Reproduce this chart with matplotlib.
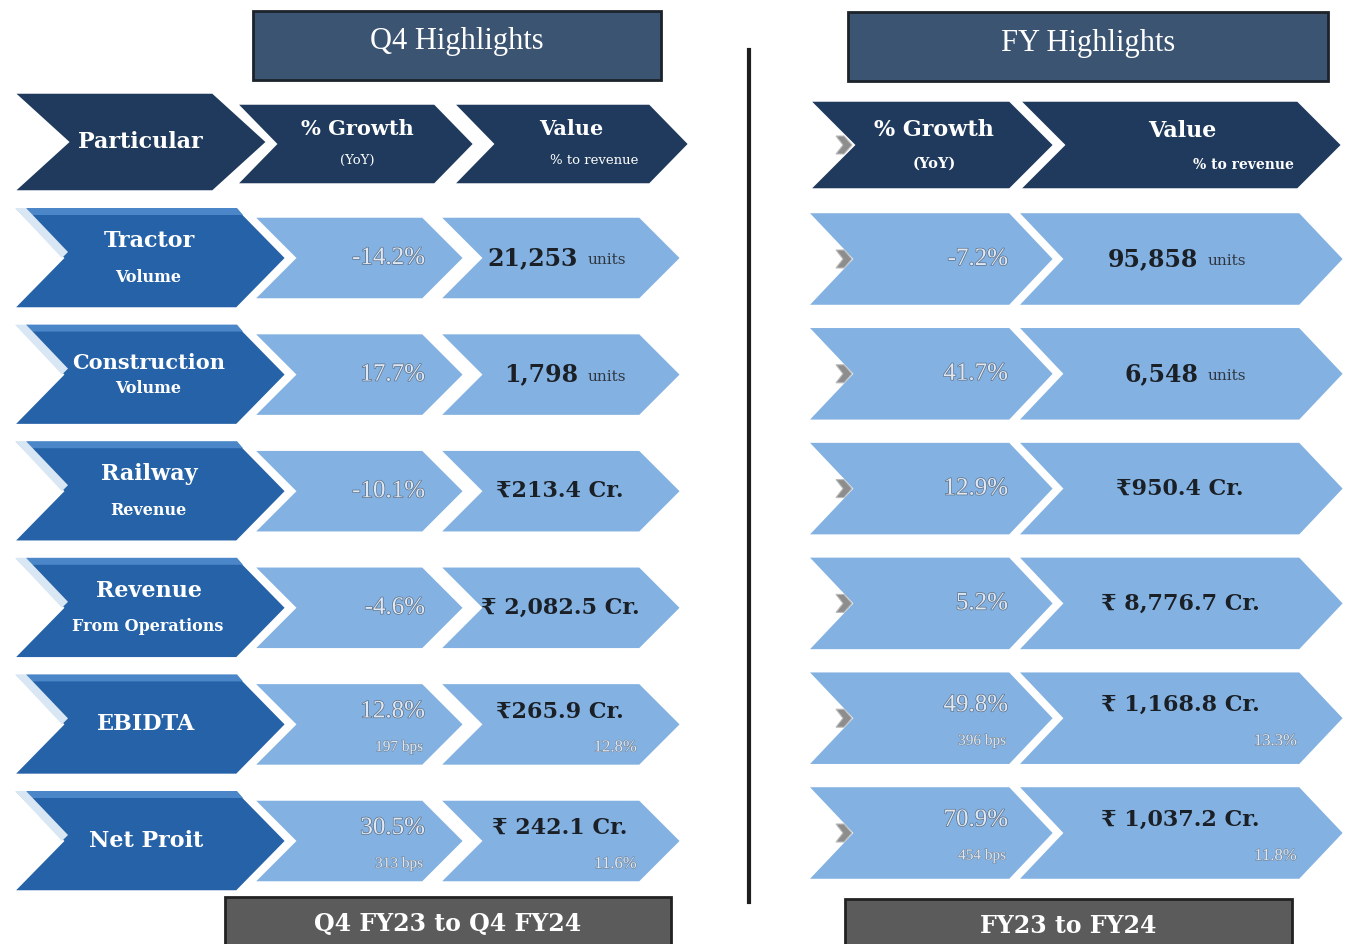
import matplotlib.pyplot as plt
from matplotlib.patches import Polygon, Rectangle
import matplotlib.patheffects as pe

# rows of the table
particulars = ['Tractor', 'Construction', 'Railway', 'Revenue', 'EBIDTA', 'Net Proit']
particular_sub = ['Volume', 'Volume', 'Revenue', 'From Operations', '', '']

q4_growth = ['-14.2%', '17.7%', '-10.1%', '-4.6%', '12.8%', '30.5%']
q4_growth_bps = ['', '', '', '', '197 bps', '313 bps']
q4_value = ['21,253', '1,798', '₹213.4 Cr.', '₹ 2,082.5 Cr.', '₹265.9 Cr.', '₹ 242.1 Cr.']
q4_value_unit = ['units', 'units', '', '', '', '']
q4_value_pct = ['', '', '', '', '12.8%', '11.6%']

fy_growth = ['-7.2%', '41.7%', '12.9%', '5.2%', '49.8%', '70.9%']
fy_growth_bps = ['', '', '', '', '396 bps', '454 bps']
fy_value = ['95,858', '6,548', '₹950.4 Cr.', '₹ 8,776.7 Cr.', '₹ 1,168.8 Cr.', '₹ 1,037.2 Cr.']
fy_value_unit = ['units', 'units', '', '', '', '']
fy_value_pct = ['', '', '', '', '13.3%', '11.8%']

NAVY = '#1f3a5c'
MID = '#2662a7'
LIGHT = '#83b2e2'
SERIF = ['DejaVu Serif', 'DejaVu Sans']

fig = plt.figure(figsize=(13.49, 9.44), dpi=100)
ax = fig.add_axes([0, 0, 1, 1])
ax.set_xlim(0, 1349)
ax.set_ylim(944, 0)
ax.axis('off')


def chevron(x0, x1, yc, h, d, color, bevel=False):
    top, bot = yc - h / 2, yc + h / 2
    pts = [(x0, top), (x1 - d, top), (x1, yc), (x1 - d, bot), (x0, bot), (x0 + d, yc)]
    ax.add_patch(Polygon(pts, closed=True, fc=color, ec='white', lw=2.5, zorder=2))
    if bevel:
        # light strip at the top and the white edge of the notch
        ax.add_patch(Polygon([(x0 + 14, top + 1), (x1 - d, top + 1), (x1 - d + 6, top + 8),
                              (x0 + 20, top + 8)], closed=True, fc='#4a86c8', ec='none', zorder=3))
        ax.add_patch(Polygon([(x0 + 3, top + 1), (x0 + 14, top + 1), (x0 + d + 6, yc - 6),
                              (x0 + d, yc)], closed=True, fc='#d9e6f3', ec='none', zorder=3))


def grey_arrow(x, y):
    pts = [(x - 7, y - 9), (x + 1, y - 9), (x + 9, y), (x + 1, y + 9), (x - 7, y + 9), (x, y)]
    ax.add_patch(Polygon(pts, closed=True, fc='#8d8d8d', ec='#bbbbbb', lw=0.8, zorder=4))


emboss = [pe.withStroke(linewidth=1.0, foreground='#5d6f86')]
emboss_small = [pe.withStroke(linewidth=0.8, foreground='#72849a')]
FILL = '#dfe8f2'


def growth_text(x, y, main, sub, ha):
    if sub:
        ax.text(x, y - 13, main, ha=ha, va='center', fontsize=18, family='Liberation Serif',
                color=FILL, path_effects=emboss, zorder=5)
        ax.text(x - 2, y + 23, sub, ha=ha, va='center', fontsize=11, family='Liberation Serif',
                color=FILL, path_effects=emboss_small, zorder=5)
    else:
        ax.text(x, y, main, ha=ha, va='center', fontsize=18, family='Liberation Serif',
                color=FILL, path_effects=emboss, zorder=5)


def value_text(cx, y, main, unit, pct, pct_x):
    if unit:
        ax.text(cx + 18, y, main, ha='right', va='center', fontsize=17, family=SERIF,
                weight='bold', color='#1b1f26', zorder=5)
        ax.text(cx + 28, y + 2, unit, ha='left', va='center', fontsize=11, family=SERIF,
                color='#30363f', zorder=5)
    elif pct:
        ax.text(cx, y - 13, main, ha='center', va='center', fontsize=16, family=SERIF,
                weight='bold', color='#1b1f26', zorder=5)
        ax.text(pct_x, y + 23, pct, ha='right', va='center', fontsize=12, family='Liberation Serif',
                color=FILL, path_effects=emboss_small, zorder=5)
    else:
        ax.text(cx, y, main, ha='center', va='center', fontsize=16, family=SERIF,
                weight='bold', color='#1b1f26', zorder=5)


# title boxes
ax.add_patch(Rectangle((253, 11), 408, 69, fc='#3b5472', ec='#1c232b', lw=2, zorder=2))
ax.text(457, 42, 'Q4 Highlights', ha='center', va='center', fontsize=22,
        family='Liberation Serif', color='white', zorder=5)
ax.add_patch(Rectangle((848, 12), 480, 69, fc='#3b5472', ec='#1c232b', lw=2, zorder=2))
ax.text(1088, 43, 'FY Highlights', ha='center', va='center', fontsize=22,
        family='Liberation Serif', color='white', zorder=5)

# divider
ax.plot([749, 749], [50, 902], color='#1e1e1e', lw=3, zorder=1)

# header row, left
chevron(12, 268, 142, 100, 55, NAVY)
chevron(235, 475, 144, 82, 40, NAVY)
chevron(452, 690, 144, 82, 40, NAVY)
ax.text(140, 142, 'Particular', ha='center', va='center', fontsize=16, family=SERIF,
        weight='bold', color='white', zorder=5)
ax.text(357, 129, '% Growth', ha='center', va='center', fontsize=15, family=SERIF,
        weight='bold', color='white', zorder=5)
ax.text(357, 160, '(YoY)', ha='center', va='center', fontsize=9.5, family=SERIF,
        color='white', zorder=5)
ax.text(571, 129, 'Value', ha='center', va='center', fontsize=15, family=SERIF,
        weight='bold', color='white', zorder=5)
ax.text(594, 161, '% to revenue', ha='center', va='center', fontsize=9.5, family=SERIF,
        color='white', zorder=5)

# header row, right
chevron(808, 1055, 145, 90, 45, NAVY)
chevron(1018, 1343, 145, 90, 45, NAVY)
grey_arrow(843, 145)
ax.text(934, 130, '% Growth', ha='center', va='center', fontsize=16, family=SERIF,
        weight='bold', color='white', zorder=5)
ax.text(934, 164, '(YoY)', ha='center', va='center', fontsize=10.5, family=SERIF,
        weight='bold', color='white', zorder=5)
ax.text(1182, 131, 'Value', ha='center', va='center', fontsize=16, family=SERIF,
        weight='bold', color='white', zorder=5)
ax.text(1243, 165, '% to revenue', ha='center', va='center', fontsize=10, family=SERIF,
        weight='bold', color='white', zorder=5)

# data rows
for i, name in enumerate(particulars):
    yl = 258 + 116.6 * i
    yr = 259 + 114.8 * i

    chevron(12, 287, yl, 102, 50, MID, bevel=True)
    chevron(252, 465, yl, 84, 42, LIGHT)
    chevron(438, 682, yl, 84, 42, LIGHT)
    if particular_sub[i]:
        gap = 12 if name == 'Construction' else 17
        ax.text(149, yl - gap, name, ha='center', va='center', fontsize=16 if len(name) < 10 else 15,
                family=SERIF, weight='bold', color='white', zorder=5)
        ax.text(148, yl + gap + 2, particular_sub[i], ha='center', va='center', fontsize=11.5,
                family=SERIF, weight='bold', color='white', zorder=5)
    else:
        ax.text(146, yl, name, ha='center', va='center', fontsize=16,
                family=SERIF, weight='bold', color='white', zorder=5)

    growth_text(425, yl, q4_growth[i], q4_growth_bps[i], 'right')
    value_text(560, yl, q4_value[i], q4_value_unit[i], q4_value_pct[i], 637)

    chevron(806, 1055, yr, 95, 45, LIGHT)
    chevron(1016, 1345, yr, 95, 45, LIGHT)
    grey_arrow(843, yr)
    growth_text(1008, yr, fy_growth[i], fy_growth_bps[i], 'right')
    value_text(1180, yr, fy_value[i], fy_value_unit[i], fy_value_pct[i], 1297)

# footers
ax.add_patch(Rectangle((225, 897), 446, 60, fc='#5b5b5b', ec='#222222', lw=2, zorder=2))
ax.text(448, 924, 'Q4 FY23 to Q4 FY24', ha='center', va='center', fontsize=17,
        family=SERIF, weight='bold', color='white', zorder=5)
ax.add_patch(Rectangle((845, 899), 447, 60, fc='#5b5b5b', ec='#222222', lw=2, zorder=2))
ax.text(1068, 926, 'FY23 to FY24', ha='center', va='center', fontsize=17,
        family=SERIF, weight='bold', color='white', zorder=5)

fig.savefig('out.png', dpi=100)
